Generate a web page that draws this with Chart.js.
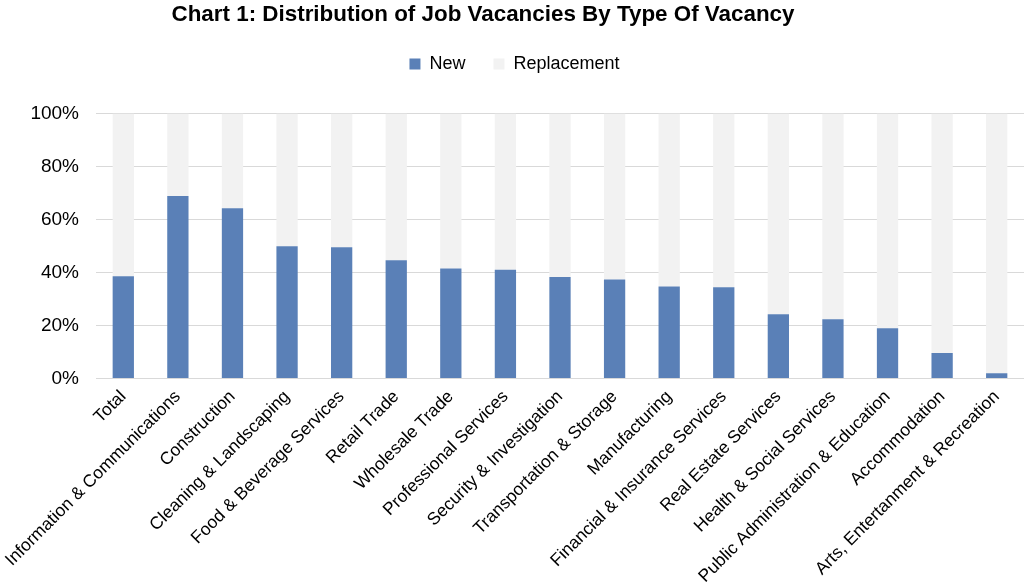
<!DOCTYPE html>
<html>
<head>
<meta charset="utf-8">
<script src="https://cdn.jsdelivr.net/npm/chart.js@4"></script>
<style>
  html, body { margin: 0; padding: 0; background: #fff; }
  #wrap { width: 1024px; height: 587px; position: relative; }
</style>
</head>
<body>
<div id="wrap"><canvas id="myChart"></canvas></div>
<script>
const chartTitle = "Chart 1: Distribution of Job Vacancies By Type Of Vacancy";
const categories = [
  "Total", "Information & Communications", "Construction", "Cleaning & Landscaping",
  "Food & Beverage Services", "Retail Trade", "Wholesale Trade", "Professional Services",
  "Security & Investigation", "Transportation & Storage", "Manufacturing",
  "Financial & Insurance Services", "Real Estate Services", "Health & Social Services",
  "Public Administration & Education", "Accommodation", "Arts, Entertanment & Recreation"
];
const newShare = [38.6, 68.9, 64.2, 49.9, 49.5, 44.6, 41.5, 41.0, 38.3, 37.3, 34.7, 34.4, 24.2, 22.3, 18.9, 9.6, 2.0];
const replacementShare = [61.4, 31.1, 35.8, 50.1, 50.5, 55.4, 58.5, 59.0, 61.7, 62.7, 65.3, 65.6, 75.8, 77.7, 81.1, 90.4, 98.0];
const yTicks = [0, 20, 40, 60, 80, 100];

// title sits a bit left of centre in the original, so draw it by hand
const titlePlugin = {
  id: "offsetTitle",
  afterInit: function (chart) {
    // extra room under the legend
    const legend = chart.legend;
    const fit = legend.fit;
    legend.fit = function () {
      fit.call(this);
      this.height += 30.5;
    };
  },
  afterDraw: function (chart) {
    const c = chart.ctx;
    c.save();
    c.font = "bold 22.4px 'Liberation Sans'";
    c.fillStyle = "#000";
    c.textAlign = "center";
    c.textBaseline = "middle";
    c.fillText(chartTitle, 483, 15);
    c.restore();
  }
};

const ctx = document.getElementById("myChart").getContext("2d");
new Chart(ctx, {
  type: "bar",
  data: {
    labels: categories,
    datasets: [
      { label: "New", data: newShare, backgroundColor: "#5a80b7" },
      { label: "Replacement", data: replacementShare, backgroundColor: "#f2f2f2" }
    ]
  },
  options: {
    responsive: true,
    maintainAspectRatio: false,
    animation: false,
    datasets: { bar: { barPercentage: 0.39, categoryPercentage: 1 } },
    layout: { padding: { left: 5, right: 0, top: 27, bottom: 0 } },
    scales: {
      x: {
        stacked: true,
        grid: { display: false },
        border: { color: "#d9d9d9", width: 1 },
        ticks: {
          color: "#000",
          font: { family: "Liberation Sans", size: 17.5 },
          maxRotation: 45,
          minRotation: 45,
          autoSkip: false,
          padding: 0
        }
      },
      y: {
        stacked: true,
        min: 0,
        max: 100,
        afterBuildTicks: function (axis) {
          axis.ticks = yTicks.map(v => ({ value: v }));
        },
        afterFit: function (axis) {
          axis.width = 91;
        },
        grid: { color: "#d9d9d9", drawTicks: false },
        border: { display: false },
        ticks: {
          color: "#000",
          padding: 17,
          font: { family: "Liberation Sans", size: 19 },
          callback: v => v + "%"
        }
      }
    },
    plugins: {
      title: { display: false },
      legend: {
        labels: {
          color: "#000",
          boxWidth: 11,
          boxHeight: 11,
          padding: 28,
          font: { family: "Liberation Sans", size: 18 }
        }
      },
      tooltip: { enabled: false }
    }
  },
  plugins: [titlePlugin]
});
</script>
</body>
</html>
